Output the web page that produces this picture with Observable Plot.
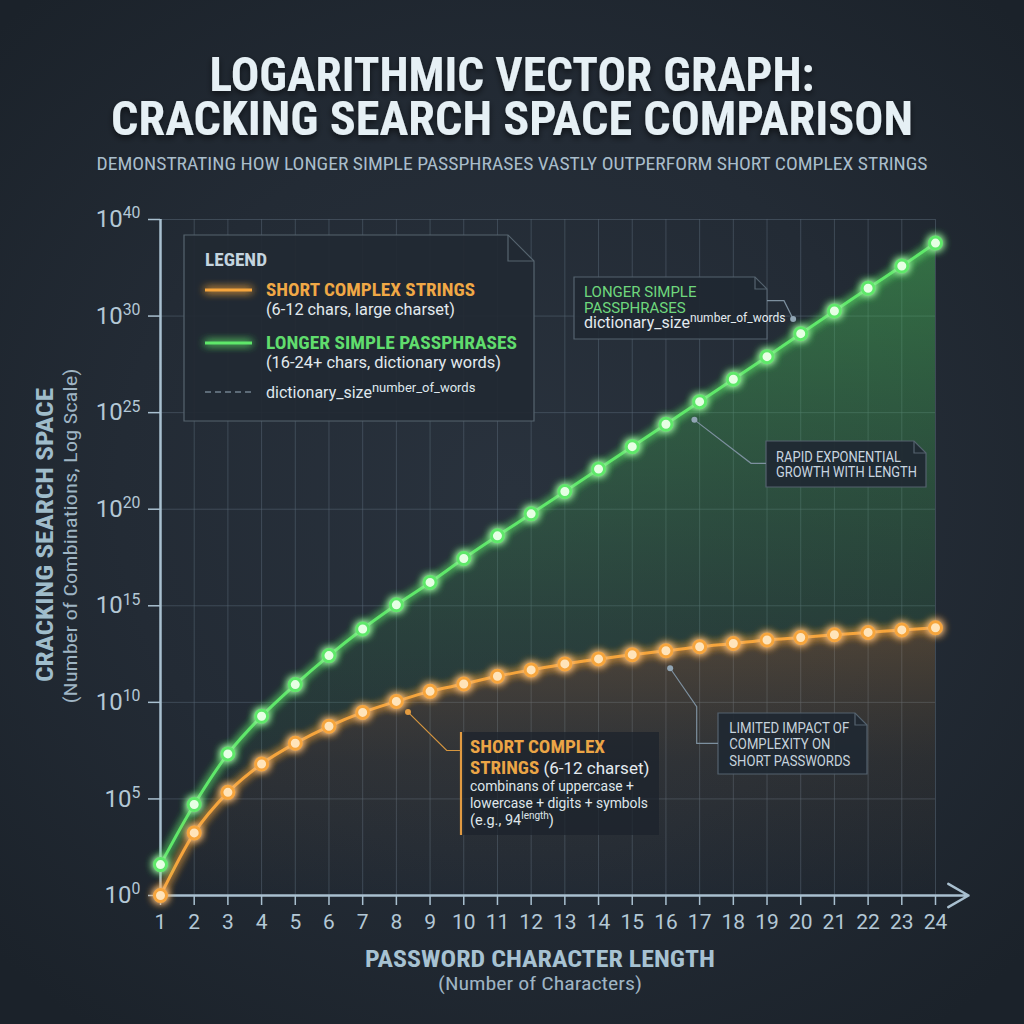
<!DOCTYPE html>
<html>
<head>
<meta charset="utf-8">
<script src="https://cdn.jsdelivr.net/npm/d3@7"></script>
<script src="https://cdn.jsdelivr.net/npm/@observablehq/plot@0.6"></script>
<style>
  html, body { margin: 0; padding: 0; background: #1f262f; }
  #wrap { position: relative; width: 1024px; height: 1024px; overflow: hidden;
    background: radial-gradient(ellipse 70% 65% at 50% 48%, #29323d 0%, #232b35 55%, #1b222a 100%); }
  #wrap svg { display: block; }
</style>
</head>
<body>
<div id="wrap"></div>
<script>
// ---------------- data ----------------
const lengths = [1, 2, 3, 4, 5, 6, 7, 8, 9, 10, 11, 12, 13, 14, 15, 16, 17, 18, 19, 20, 21, 22, 23, 24];
// log10 of search space
const shortComplexExp = [0, 3.24, 5.34, 6.81, 7.88, 8.76, 9.48, 10.05, 10.57, 10.95, 11.35, 11.68,
  11.99, 12.25, 12.47, 12.67, 12.88, 13.05, 13.23, 13.36, 13.50, 13.62, 13.75, 13.86];
const passphraseExp = [1.60, 4.71, 7.33, 9.28, 10.92, 12.42, 13.80, 15.05, 16.21, 17.45, 18.62, 19.76,
  20.92, 22.08, 23.24, 24.40, 25.57, 26.73, 27.90, 29.09, 30.26, 31.44, 32.59, 33.78];
const yTickExps = [0, 5, 10, 15, 20, 25, 30, 35];
const yTickLabels = ["0", "5", "10", "15", "20", "25", "30", "40"];

const GREEN = "#5fe86a", ORANGE = "#f6a53c";
const rows = lengths.map((len, i) => ({len, s: 10 ** shortComplexExp[i], p: 10 ** passphraseExp[i]}));
const yTickVals = yTickExps.map(e => 10 ** e);

const plot = Plot.plot({
  width: 1024, height: 1024,
  marginLeft: 160, marginRight: 89, marginTop: 219, marginBottom: 129,
  style: {background: "transparent", color: "#b6cad8", fontFamily: "Roboto, 'Open Sans', sans-serif", overflow: "visible"},
  x: {domain: [1, 24], axis: null, label: null},
  y: {type: "log", domain: [1, 1e35], axis: null, label: null},
  marks: [
    Plot.gridX(lengths, {stroke: "#556473", strokeOpacity: 0.55, strokeWidth: 1}),
    Plot.gridY(yTickVals, {stroke: "#556473", strokeOpacity: 0.55, strokeWidth: 1}),
    Plot.areaY(rows, {x: "len", y1: 1, y2: "s", fill: "url(#gradOrange)", curve: "monotone-x"}),
    Plot.areaY(rows, {x: "len", y1: "s", y2: "p", fill: "url(#gradGreen)", curve: "monotone-x"}),
    Plot.ruleX([1], {y1: 1, y2: 1e35, stroke: "#a9c0d0", strokeWidth: 2.5}),
    Plot.arrow([0], {x1: 1, y1: 1, x2: 24.98, y2: 1, stroke: "#a9c0d0", strokeWidth: 2.5, headLength: 14}),
    Plot.axisX(lengths, {label: null, tickSize: 10, tickPadding: 9, fontSize: 21, color: "#b4c8d6", stroke: "#a9c0d0", strokeWidth: 1.5}),
    Plot.axisY(yTickVals, {label: null, tickSize: 12, tickPadding: 8, fontSize: 24, color: "#b4c8d6", stroke: "#a9c0d0", strokeWidth: 1.5,
      tickFormat: d => "10^" + yTickLabels[yTickVals.indexOf(d)]}),
    Plot.line(rows, {x: "len", y: "s", stroke: ORANGE, strokeWidth: 3, curve: "monotone-x"}),
    Plot.line(rows, {x: "len", y: "p", stroke: GREEN, strokeWidth: 3, curve: "monotone-x"}),
    Plot.dot(rows, {x: "len", y: "s", r: 6, fill: "#ffe4ba", stroke: ORANGE, strokeWidth: 3}),
    Plot.dot(rows, {x: "len", y: "p", r: 6, fill: "#e6ffe4", stroke: GREEN, strokeWidth: 3})
  ]
});

document.getElementById("wrap").appendChild(plot);
const svg = d3.select(plot);
const xs = plot.scale("x"), ys = plot.scale("y");

// defs
const defs = svg.insert("defs", ":first-child");
const gg = defs.append("linearGradient").attr("id", "gradGreen").attr("x1", 0).attr("y1", 0).attr("x2", 0).attr("y2", 1);
gg.append("stop").attr("offset", 0).attr("stop-color", "#4cc85c").attr("stop-opacity", 0.45);
gg.append("stop").attr("offset", 0.6).attr("stop-color", "#3a9a4c").attr("stop-opacity", 0.16);
gg.append("stop").attr("offset", 1).attr("stop-color", "#2f6f3e").attr("stop-opacity", 0.04);
const go = defs.append("linearGradient").attr("id", "gradOrange").attr("x1", 0).attr("y1", 0).attr("x2", 0).attr("y2", 1);
go.append("stop").attr("offset", 0).attr("stop-color", "#e89a3a").attr("stop-opacity", 0.22);
go.append("stop").attr("offset", 0.5).attr("stop-color", "#b07a38").attr("stop-opacity", 0.08);
go.append("stop").attr("offset", 1).attr("stop-color", "#b07a38").attr("stop-opacity", 0);
const f = defs.append("filter").attr("id", "glow").attr("filterUnits", "userSpaceOnUse")
  .attr("x", 0).attr("y", 0).attr("width", 1024).attr("height", 1024);
f.append("feGaussianBlur").attr("in", "SourceGraphic").attr("stdDeviation", 4).attr("result", "b");
const fm = f.append("feMerge");
fm.append("feMergeNode").attr("in", "b");
fm.append("feMergeNode").attr("in", "b");
fm.append("feMergeNode").attr("in", "SourceGraphic");
const sh = defs.append("filter").attr("id", "shadow").attr("x", "-10%").attr("y", "-30%").attr("width", "120%").attr("height", "180%");
sh.append("feDropShadow").attr("dx", 0).attr("dy", 3).attr("stdDeviation", 3).attr("flood-color", "#000").attr("flood-opacity", 0.55);

svg.selectAll('g[aria-label="line"], g[aria-label="dot"]').attr("filter", "url(#glow)");

// y tick labels with superscripts
svg.selectAll('g[aria-label="y-axis tick label"] text').each(function () {
  const t = d3.select(this);
  const [base, sup] = t.text().split("^");
  t.text(null);
  t.append("tspan").text(base);
  t.append("tspan").attr("dy", "-0.55em").attr("font-size", "0.66em").text(sup);
});

// ---------------- helpers ----------------
const COND = "'Liberation Sans Narrow', 'Roboto Condensed', 'DejaVu Sans Condensed', Roboto, sans-serif";
const REG = "Roboto, 'Open Sans', sans-serif";
const layer = svg.append("g").attr("text-anchor", "start");
function txt(g, x, y, s, o = {}) {
  const t = g.append("text").attr("x", x).attr("y", y).text(s)
    .attr("font-family", o.family || REG).attr("font-size", o.size || 16)
    .attr("font-weight", o.weight || "normal").attr("fill", o.fill || "#dfe7ed")
    .attr("text-anchor", o.anchor || "start");
  if (o.len) t.attr("textLength", o.len).attr("lengthAdjust", "spacingAndGlyphs");
  if (o.transform) t.attr("transform", o.transform);
  if (o.filter) t.attr("filter", o.filter);
  return t;
}
function supTxt(g, x, y, base, sup, o = {}) {
  const t = g.append("text").attr("x", x).attr("y", y).attr("text-anchor", "start")
    .attr("font-family", o.family || REG).attr("font-size", o.size || 16).attr("fill", o.fill || "#dfe7ed");
  t.append("tspan").text(base);
  t.append("tspan").attr("dy", -(o.raise || 6)).attr("font-size", o.supSize || 12).text(sup);
  if (o.tail) t.append("tspan").attr("dy", (o.raise || 6)).text(o.tail);
  return t;
}
function dogEarBox(g, x0, y0, x1, y1, ear, o = {}) {
  g.append("path").attr("d", `M${x0},${y0}H${x1 - ear}L${x1},${y0 + ear}V${y1}H${x0}Z`)
    .attr("fill", o.fill || "rgba(32,40,50,0.92)").attr("stroke", o.stroke || "#55636f").attr("stroke-width", 1.2);
  g.append("path").attr("d", `M${x1 - ear},${y0}V${y0 + ear}H${x1}`).attr("fill", "none")
    .attr("stroke", o.stroke || "#55636f").attr("stroke-width", 1.2);
}

// ---------------- titles ----------------
txt(layer, 512, 91, "LOGARITHMIC VECTOR GRAPH:", {family: COND, weight: "bold", size: 48, fill: "#e6f0f5", anchor: "middle", len: 605, filter: "url(#shadow)"});
txt(layer, 512, 135, "CRACKING SEARCH SPACE COMPARISON", {family: COND, weight: "bold", size: 48, fill: "#e6f0f5", anchor: "middle", len: 802, filter: "url(#shadow)"});
txt(layer, 512, 170, "DEMONSTRATING HOW LONGER SIMPLE PASSPHRASES VASTLY OUTPERFORM SHORT COMPLEX STRINGS", {family: COND, size: 19, fill: "#a9bdcb", anchor: "middle", len: 831});

// axis titles
txt(layer, 0, 0, "CRACKING SEARCH SPACE", {family: COND, weight: "bold", size: 23, fill: "#9fbccb", anchor: "middle", len: 294, transform: "translate(53,535) rotate(-90)"});
txt(layer, 0, 0, "(Number of Combinations, Log Scale)", {family: COND, size: 19, fill: "#9fb5c4", anchor: "middle", len: 335, transform: "translate(77,536) rotate(-90)"});
txt(layer, 540, 967, "PASSWORD CHARACTER LENGTH", {family: COND, weight: "bold", size: 23, fill: "#a7c2d2", anchor: "middle", len: 350});
txt(layer, 540, 990, "(Number of Characters)", {family: COND, size: 19, fill: "#9fb5c4", anchor: "middle", len: 204});

// ---------------- legend ----------------
const lg = layer.append("g");
dogEarBox(lg, 184, 235, 534, 421, 26, {fill: "rgba(33,41,51,0.93)", stroke: "#56646f"});
txt(lg, 205, 266, "LEGEND", {family: COND, weight: "bold", size: 19, fill: "#c4d4df", len: 62});
lg.append("line").attr("x1", 205).attr("x2", 252).attr("y1", 290).attr("y2", 290).attr("stroke", ORANGE).attr("stroke-width", 3).attr("filter", "url(#glow)");
txt(lg, 266, 296, "SHORT COMPLEX STRINGS", {family: COND, weight: "bold", size: 19, fill: "#f0a846", len: 209});
txt(lg, 266, 315, "(6-12 chars, large charset)", {size: 17, fill: "#e2e9ee", len: 189});
lg.append("line").attr("x1", 205).attr("x2", 252).attr("y1", 343).attr("y2", 343).attr("stroke", GREEN).attr("stroke-width", 3).attr("filter", "url(#glow)");
txt(lg, 266, 349, "LONGER SIMPLE PASSPHRASES", {family: COND, weight: "bold", size: 19, fill: "#60dc6d", len: 251});
txt(lg, 266, 368, "(16-24+ chars, dictionary words)", {size: 17, fill: "#e2e9ee", len: 235});
lg.append("line").attr("x1", 205).attr("x2", 252).attr("y1", 392).attr("y2", 392).attr("stroke", "#5d6b78").attr("stroke-width", 2).attr("stroke-dasharray", "6,4");
supTxt(lg, 266, 398, "dictionary_size", "number_of_words", {size: 16, supSize: 13, raise: 6, fill: "#dfe7ed"});

// ---------------- annotations ----------------
const annAnchors = [
  {x: 19.79, e: 29.82}, // passphrase label
  {x: 16.86, e: 24.60}, // rapid growth
  {x: 8.36, e: 9.47},   // short complex
  {x: 16.14, e: 11.74}  // limited impact
];
const P = a => [xs.apply(a.x), ys.apply(10 ** a.e)];
const an = layer.append("g");
const leadC = "#7d909f";

// 1. passphrase box
dogEarBox(an, 574, 277, 767, 339, 12);
{
  const [dx, dy] = P(annAnchors[0]);
  an.append("path").attr("d", `M767,300.7H784L${dx},${dy}`).attr("fill", "none").attr("stroke", leadC).attr("stroke-width", 1.2);
  an.append("circle").attr("cx", dx).attr("cy", dy).attr("r", 3).attr("fill", "#91a5b4");
}
txt(an, 584, 296.5, "LONGER SIMPLE", {size: 15, fill: "#6fd87d"});
txt(an, 584, 312.5, "PASSPHRASES", {size: 15, fill: "#6fd87d"});
supTxt(an, 584, 328, "dictionary_size", "number_of_words", {size: 16, supSize: 12, raise: 6, fill: "#e4ebf0"});

// 2. rapid growth box
dogEarBox(an, 766, 441, 926, 487, 12);
{
  const [dx, dy] = P(annAnchors[1]);
  an.append("path").attr("d", `M${dx},${dy}L751,463.3H766`).attr("fill", "none").attr("stroke", leadC).attr("stroke-width", 1.2);
  an.append("circle").attr("cx", dx).attr("cy", dy).attr("r", 3).attr("fill", "#91a5b4");
}
txt(an, 776, 461.7, "RAPID EXPONENTIAL", {size: 15, fill: "#c9d6e0", len: 125});
txt(an, 776, 477.3, "GROWTH WITH LENGTH", {size: 15, fill: "#c9d6e0", len: 141});

// 3. short complex annotation
an.append("rect").attr("x", 461).attr("y", 732).attr("width", 198).attr("height", 103).attr("fill", "rgba(28,35,44,0.75)");
an.append("line").attr("x1", 461).attr("x2", 461).attr("y1", 732).attr("y2", 835).attr("stroke", "#e09a42").attr("stroke-width", 2.2);
{
  const [dx, dy] = P(annAnchors[2]);
  an.append("path").attr("d", `M${dx},${dy}L446.7,750.5H461`).attr("fill", "none").attr("stroke", "#d6963f").attr("stroke-width", 1.2);
  an.append("circle").attr("cx", dx).attr("cy", dy).attr("r", 3).attr("fill", "#e39b40");
}
txt(an, 470, 753.3, "SHORT COMPLEX", {family: COND, weight: "bold", size: 19, fill: "#eba546", len: 135});
{
  const t = an.append("text").attr("x", 470).attr("y", 774).attr("font-size", 19).attr("text-anchor", "start");
  t.append("tspan").attr("font-family", COND).attr("font-weight", "bold").attr("fill", "#eba546").text("STRINGS");
  t.append("tspan").attr("font-family", REG).attr("font-size", 17).attr("fill", "#e4ebf0").text(" (6-12 charset)");
}
txt(an, 470, 790.7, "combinans of uppercase +", {size: 14.5, fill: "#dfe6eb", len: 164});
txt(an, 470, 808.3, "lowercase + digits + symbols", {size: 14.5, fill: "#dfe6eb", len: 178});
supTxt(an, 470, 825, "(e.g., 94", "length", {size: 14.5, supSize: 10, raise: 6, fill: "#dfe6eb", tail: ")"});

// 4. limited impact box
dogEarBox(an, 718, 713, 867, 774, 12);
{
  const [dx, dy] = P(annAnchors[3]);
  an.append("path").attr("d", `M${dx},${dy}L696.7,706.7V743.3H718`).attr("fill", "none").attr("stroke", leadC).attr("stroke-width", 1.2);
  an.append("circle").attr("cx", dx).attr("cy", dy).attr("r", 3).attr("fill", "#91a5b4");
}
txt(an, 729.3, 732.7, "LIMITED IMPACT OF", {size: 15, fill: "#c6d3dd", len: 120});
txt(an, 729.3, 749, "COMPLEXITY ON", {size: 15, fill: "#c6d3dd", len: 101});
txt(an, 729.3, 765.7, "SHORT PASSWORDS", {size: 15, fill: "#c6d3dd", len: 121});
</script>
</body>
</html>
